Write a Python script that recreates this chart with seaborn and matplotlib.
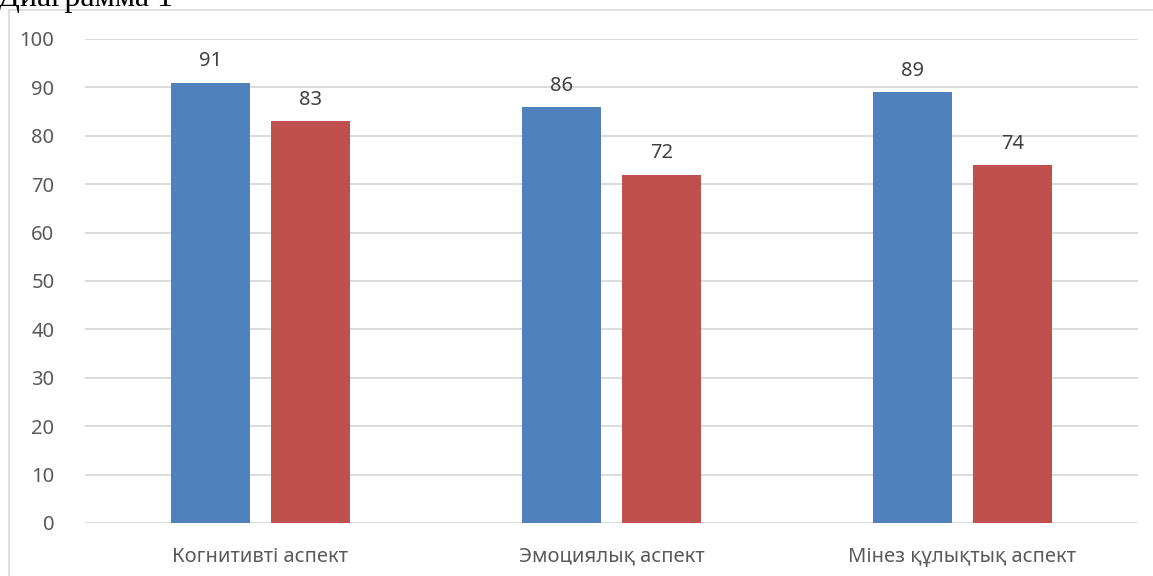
import matplotlib.pyplot as plt
from matplotlib.patches import Rectangle
import pandas as pd
import seaborn as sns

# Data
categories = ['Когнитивті аспект', 'Эмоциялық аспект', 'Мінез құлықтық аспект']
series_names = ['Серия 1', 'Серия 2']
series_1 = [91, 86, 89]
series_2 = [83, 72, 74]

df = pd.DataFrame({
    'category': categories * 2,
    'series': [series_names[0]] * 3 + [series_names[1]] * 3,
    'value': series_1 + series_2,
})

sns.set_style('white')
plt.rcParams['font.family'] = ['Noto Sans', 'DejaVu Sans']

fig = plt.figure(figsize=(11.53, 5.76), dpi=100)
ax = fig.add_axes([85 / 1153, 53 / 576, 1053 / 1153, 484 / 576])

sns.barplot(data=df, x='category', y='value', hue='series', order=categories,
            palette=['#4F81BD', '#C0504D'], saturation=1, width=0.57, gap=0.21,
            edgecolor='none', legend=False, ax=ax)

ax.set_ylim(0, 100)
ax.set_xlim(-0.5, 2.5)
ax.set_yticks(range(0, 101, 10))
ax.yaxis.grid(True, color='#D9D9D9', linewidth=1.3)
ax.set_axisbelow(True)
for s in ax.spines.values():
    s.set_visible(False)
ax.tick_params(axis='both', length=0, labelsize=14.5, labelcolor='#595959')
ax.tick_params(axis='y', pad=22)
ax.tick_params(axis='x', pad=17)
ax.set_xlabel('')
ax.set_ylabel('')

# Value labels above bars
for cont in ax.containers:
    ax.bar_label(cont, padding=8, fontsize=14.5, color='#404040')

# Outer chart border (cut by the image edges on right and bottom)
fig.patches.append(Rectangle((9 / 1153, -0.1), 1.2, 0.1 + 1 - 9.5 / 576,
                             transform=fig.transFigure, fill=False,
                             edgecolor='#D9D9D9', linewidth=1.2))

# Caption above, mostly cut off by the top edge
fig.text(-2 / 1153, 1 - 6 / 576, 'Диаграмма 1', family='Liberation Serif',
         fontsize=23, va='baseline', ha='left', color='black')

fig.savefig('out.png', dpi=100)
